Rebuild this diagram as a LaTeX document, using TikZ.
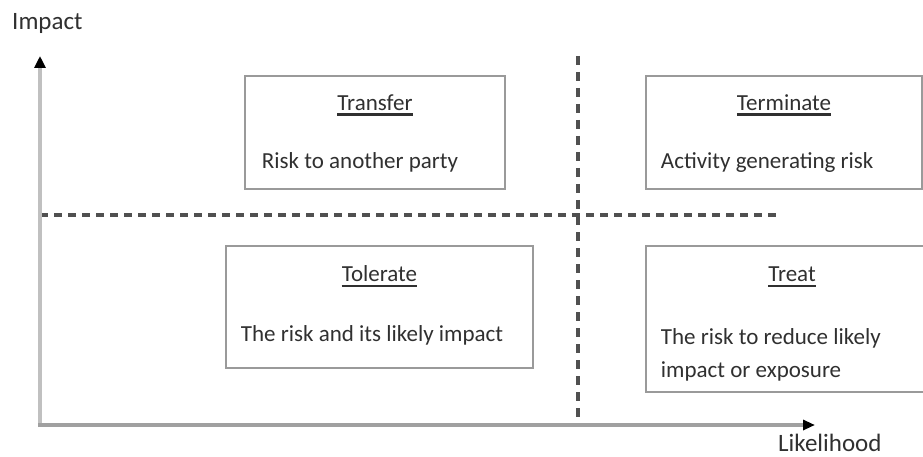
\documentclass[tikz,border=0pt]{standalone}
\usepackage{fontspec}
\setmainfont{Carlito}
\usetikzlibrary{arrows.meta}
\usetikzlibrary{positioning}
\usetikzlibrary{calc}
\definecolor{boxgray}{HTML}{9A9A9A}
\definecolor{vaxisgray}{HTML}{C0C0C0}
\definecolor{haxisgray}{HTML}{A0A0A0}
\definecolor{dashgray}{HTML}{505050}
\definecolor{txtgray}{HTML}{303030}

\begin{document}
\begin{tikzpicture}[x=1pt, y=-1pt,
				box/.style={draw=boxgray, line width=2.5pt, inner sep=0pt},
				title/.style={anchor=base, inner sep=0pt, text=txtgray, font=\fontsize{23}{33}\selectfont},
				body/.style={anchor=base west, inner sep=0pt, align=left, text=txtgray, font=\fontsize{23}{33}\selectfont},
				axlabel/.style={anchor=base west, inner sep=0pt, text=txtgray, font=\fontsize{25}{30}\selectfont},
				uline/.style={draw=txtgray, line width=2.5pt},
				divider/.style={draw=dashgray, line width=3.5pt}]
				\useasboundingbox (0,0) rectangle (923,457);
				
				\coordinate (origin) at (40,425);
				\coordinate (ytip) at (40,56);
				\coordinate (xtip) at (815,425);
				\coordinate (vtop) at (578,56);
				\coordinate (vbot) at (578,425);
				\coordinate (hleft) at (40,215);
				\coordinate (hright) at (780,215);
				
				\node[box, minimum width=260pt, minimum height=113pt](transfer) at (375,132.5) {};
				\node[box, minimum width=276pt, minimum height=113pt](terminate) at (784,132.5) {};
				\node[box, minimum width=307pt, minimum height=122pt](tolerate) at (379.5,307) {};
				\node[box, minimum width=292pt, minimum height=146pt](treat) at (792,319) {};
				
				\node[title](ttransfer) at ($(transfer.north)+(0,36)$) {Transfer};
				\node[title](tterminate) at ($(terminate.north)+(0,36)$) {Terminate};
				\node[title](ttolerate) at ($(tolerate.north)+(0,37)$) {Tolerate};
				\node[title](ttreat) at ($(treat.north)+(0,37)$) {Treat};
				\foreach \t in {ttransfer, tterminate, ttolerate, ttreat}
					\draw[uline] ([yshift=-4pt]\t.base west) -- ([yshift=-4pt]\t.base east);
				
				\node[body](btransfer) at ($(transfer.north west)+(18,94)$) {Risk to another party};
				\node[body](bterminate) at ($(terminate.north west)+(16,94)$) {Activity generating risk};
				\node[body](btolerate) at ($(tolerate.north west)+(16,97)$) {The risk and its likely impact};
				\node[body](btreat) at ($(treat.north west)+(16,133)$) {The risk to reduce likely\\impact or exposure};
				
				\draw[divider, dash pattern=on 9pt off 7pt] (vtop) -- (vbot);
				\draw[divider, line width=4pt, dash pattern=on 8pt off 6pt] (hleft) -- (hright);
				
				\draw[draw=vaxisgray, line width=4pt, -{Triangle[length=12pt, width=11pt, color=black]}] ([yshift=-2pt]origin) -- (ytip);
				\draw[draw=haxisgray, line width=4pt, -{Triangle[length=12pt, width=10pt, color=black]}] ([xshift=-2pt]origin) -- (xtip);
				
				\node[axlabel](impact) at (12,30) {Impact};
				\node[axlabel](likelihood) at (778,451) {Likelihood};
				
			\end{tikzpicture}
\end{document}
